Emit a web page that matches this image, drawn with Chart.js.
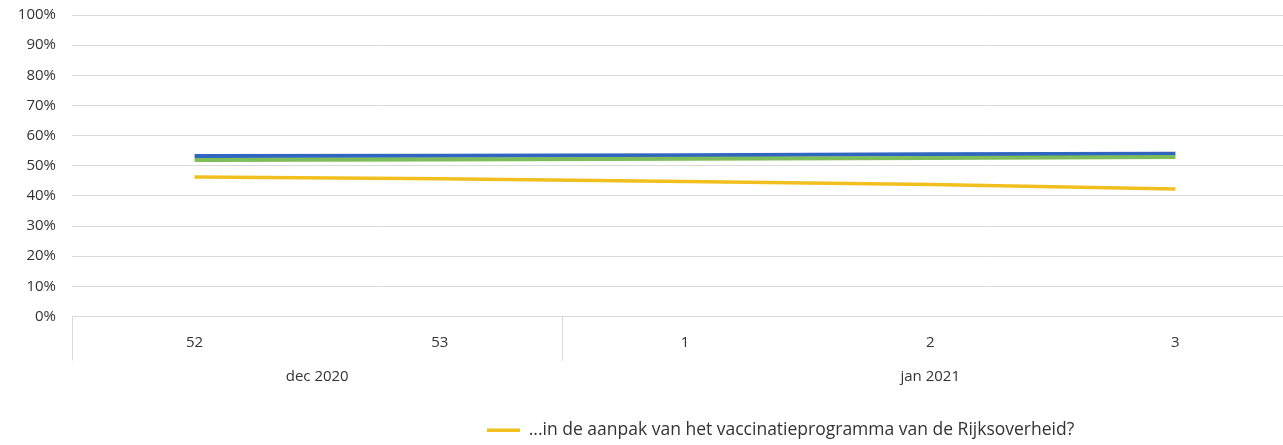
<!DOCTYPE html>
<html>
<head>
<meta charset="utf-8">
<script src="https://cdn.jsdelivr.net/npm/chart.js@4.4.1/dist/chart.umd.min.js"></script>
<style>
  html, body { margin:0; padding:0; background:#fff; overflow:hidden; }
  #wrap { width:1298px; height:445px; }
</style>
</head>
<body>
<div id="wrap"><canvas id="chart" width="1298" height="445"></canvas></div>
<script>
const weeks = ["52", "53", "1", "2", "3"];
const weekMonth = ["dec 2020", "dec 2020", "jan 2021", "jan 2021", "jan 2021"];
const seriesNames = [
  "...in de aanpak van het vaccinatieprogramma van de Rijksoverheid?",
  "Reeks 2",
  "Reeks 3"
];
const yellowVals = [46.3, 45.7, 44.8, 43.8, 42.3];
const greenVals  = [51.9, 52.1, 52.3, 52.6, 52.9];
const blueVals   = [53.2, 53.3, 53.5, 53.8, 54.0];

const FONT = "'Open Sans', 'Noto Sans', sans-serif";
const TXT = "#333333";
const GRID = "#d9d9d9";

// month row + group separators under the week labels
const monthRow = {
  id: "monthRow",
  afterDraw(chart) {
    const x = chart.scales.x, ctx = chart.ctx, bottom = chart.chartArea.bottom;
    const half = (x.getPixelForValue(1) - x.getPixelForValue(0)) / 2;
    const groups = [];
    weekMonth.forEach((m, i) => {
      const g = groups[groups.length - 1];
      if (g && g.name === m) g.end = i; else groups.push({ name: m, start: i, end: i });
    });
    ctx.save();
    ctx.strokeStyle = GRID;
    ctx.lineWidth = 1;
    ctx.fillStyle = TXT;
    ctx.font = "15px " + FONT;
    ctx.textAlign = "center";
    ctx.textBaseline = "middle";
    groups.forEach(g => {
      const l = x.getPixelForValue(g.start) - half;
      const r = x.getPixelForValue(g.end) + half;
      [l, r].forEach(px => {
        ctx.beginPath();
        ctx.moveTo(Math.round(px) + 0.5, bottom);
        ctx.lineTo(Math.round(px) + 0.5, bottom + 44);
        ctx.stroke();
      });
      ctx.fillText(g.name, (l + r) / 2, bottom + 60);
    });
    ctx.restore();
  }
};

// legend row sits off-centre in the source picture
const legendShift = {
  id: "legendShift",
  afterLayout(chart) {
    const lg = chart.legend;
    if (lg) {
      lg.left = 487 - lg.options.labels.padding;
      lg.top += 4; lg.bottom += 4;
    }
  }
};

new Chart(document.getElementById("chart").getContext("2d"), {
  type: "line",
  data: {
    labels: weeks,
    datasets: [
      { label: seriesNames[0], data: yellowVals, borderColor: "#f2c01e", backgroundColor: "#f2c01e", borderWidth: 3.5 },
      { label: seriesNames[1], data: greenVals,  borderColor: "#7dbd5a", backgroundColor: "#7dbd5a", borderWidth: 4 },
      { label: seriesNames[2], data: blueVals,   borderColor: "#2f66c0", backgroundColor: "#2f66c0", borderWidth: 4 }
    ]
  },
  plugins: [monthRow, legendShift],
  options: {
    responsive: false,
    animation: false,
    layout: { padding: { top: 15, right: 0, bottom: 0, left: 0 } },
    elements: { point: { radius: 0 }, line: { tension: 0, borderCapStyle: "butt" } },
    scales: {
      x: {
        offset: true,
        grid: { display: false, drawTicks: false },
        border: { display: false },
        ticks: { color: TXT, font: { family: FONT, size: 15 }, padding: 17, maxRotation: 0 },
        afterFit(s) { s.height = 95; }
      },
      y: {
        min: 0, max: 100,
        grid: { color: GRID, drawTicks: false },
        border: { display: false },
        ticks: { stepSize: 10, color: TXT, font: { family: FONT, size: 15 }, padding: 16, callback: v => v + "%" },
        afterFit(s) { s.width = 72; s.paddingTop = 0; s.paddingBottom = 0; }
      }
    },
    plugins: {
      tooltip: { enabled: false },
      legend: {
        position: "bottom",
        align: "start",
        labels: {
          filter: it => it.datasetIndex === 0,
          usePointStyle: true, pointStyle: "line", pointStyleWidth: 33,
          color: TXT, font: { family: FONT, size: 17.5 }, padding: 6
        }
      }
    }
  }
});
</script>
</body>
</html>
